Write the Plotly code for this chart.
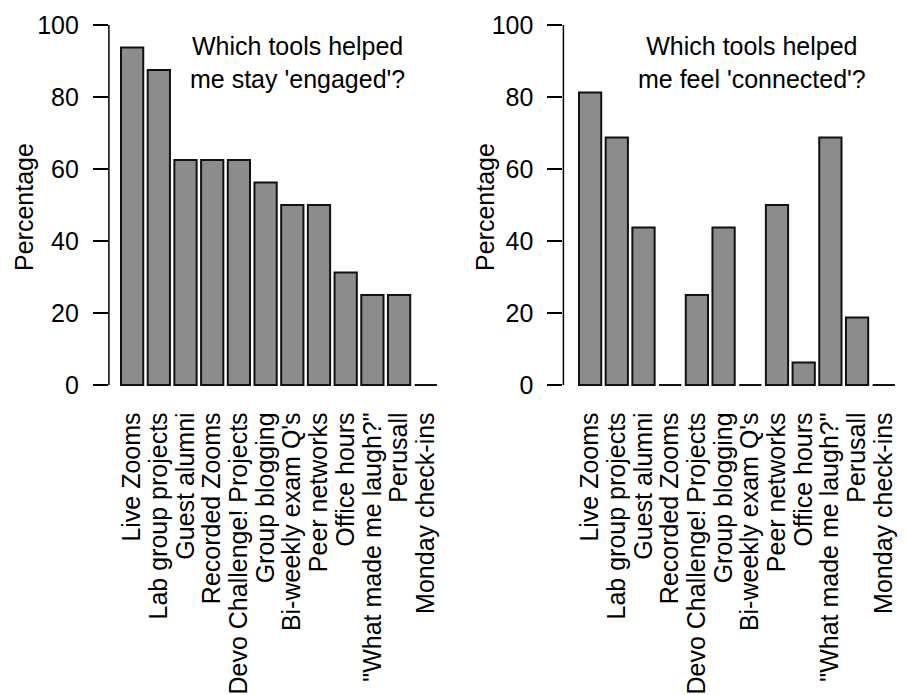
import plotly.graph_objects as go

categories = ["Live Zooms", "Lab group projects", "Guest alumni", "Recorded Zooms",
              "Devo Challenge! Projects", "Group blogging", "Bi-weekly exam Q's",
              "Peer networks", "Office hours", "\"What made me laugh?\"", "Perusall",
              "Monday check-ins"]
engaged = [93.75, 87.5, 62.5, 62.5, 62.5, 56.25, 50, 50, 31.25, 25, 25, 0]
connected = [81.25, 68.75, 43.75, 0, 25, 43.75, 0, 50, 6.25, 68.75, 18.75, 0]
ytick_vals = [0, 20, 40, 60, 80, 100]
titles = ["Which tools helped<br>me stay 'engaged'?", "Which tools helped<br>me feel 'connected'?"]
ylabel = "Percentage"

OFF = 8  # default page body margin
W, H = 907 - OFF, 695 - OFF
FONT = "Liberation Sans, Arial, sans-serif"
FS = 25


def px(x):
    return (x - OFF) / W


def py(y):
    return (H - (y - OFF)) / H


fig = go.Figure()
bar_style = dict(marker=dict(color="#8c8c8c", line=dict(color="#111111", width=2)), showlegend=False)
fig.add_trace(go.Bar(x=categories, y=engaged, xaxis="x", yaxis="y", **bar_style))
fig.add_trace(go.Bar(x=categories, y=connected, xaxis="x2", yaxis="y2", **bar_style))

dom1 = [px(108.9), px(441.8)]
dom2 = [px(563.4), 1.0]
ydom = [py(399.4), py(10.6)]

xcommon = dict(type="category", showline=False, ticks="", showgrid=False, zeroline=False,
               tickangle=-90, tickfont=dict(family=FONT, size=FS, color="black"),
               tickmode="array", tickvals=categories, ticktext=categories,
               automargin=False, ticklabelstandoff=7)
ycommon = dict(range=[-4, 104], domain=ydom, showline=False, showgrid=False, zeroline=False,
               ticks="outside", ticklen=15, tickwidth=1.5, tickcolor="black",
               tickvals=ytick_vals, tickfont=dict(family=FONT, size=FS, color="black"),
               automargin=False, ticklabelstandoff=9)

fig.update_layout(
    width=W, height=H, margin=dict(l=0, r=0, t=0, b=0),
    paper_bgcolor="white", plot_bgcolor="white", bargap=0.2 / 1.2,
    xaxis=dict(domain=dom1, range=[-0.87, 11.6], anchor="y", **xcommon),
    xaxis2=dict(domain=dom2, range=[-1.0, 11.87], anchor="y2", **xcommon),
    yaxis=dict(anchor="x", **ycommon),
    yaxis2=dict(anchor="x2", **ycommon),
    font=dict(family=FONT, size=FS, color="black"),
)

# y axis lines spanning 0..100 (R style)
for dom, yref in [(dom1, "y"), (dom2, "y2")]:
    fig.add_shape(type="line", xref="paper", yref=yref, x0=dom[0], x1=dom[0], y0=0, y1=100,
                  line=dict(color="black", width=1.5))

# panel titles
for xc, t in [(297, titles[0]), (752, titles[1])]:
    fig.add_annotation(x=px(xc), y=py(62.5), xref="paper", yref="paper", text=t,
                       showarrow=False, xanchor="center", yanchor="middle",
                       font=dict(family=FONT, size=FS, color="black"))

# y-axis titles
for xc in [24, 485]:
    fig.add_annotation(x=px(xc), y=py(207), xref="paper", yref="paper", text=ylabel,
                       showarrow=False, textangle=-90, xanchor="center", yanchor="middle",
                       font=dict(family=FONT, size=FS, color="black"))

fig.write_html("out.html")
